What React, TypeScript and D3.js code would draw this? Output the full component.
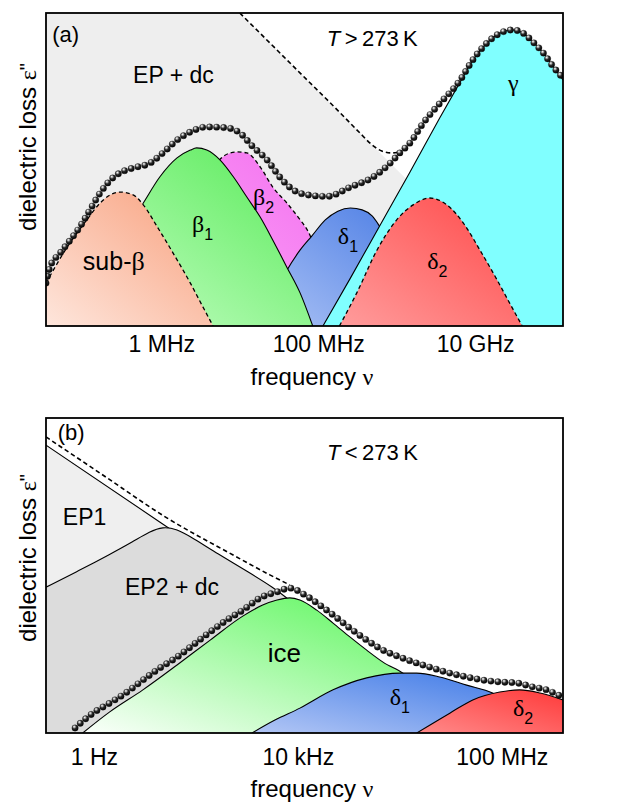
import React, { useEffect, useRef } from 'react';
import * as d3 from 'd3';

// x = log10(frequency / Hz), y = dielectric loss in arbitrary units (0..10)

// panel (a), T > 273 K
const totalA = [[4.53,1.37],[4.58,1.88],[4.71,2.33],[4.84,2.75],[4.96,3.16],[5.09,3.71],[5.22,4.25],[5.35,4.66],[5.47,4.89],[5.64,5.05],[5.86,5.21],[6.02,5.53],[6.20,5.94],[6.37,6.20],[6.58,6.36],[6.84,6.33],[7.00,6.17],[7.17,5.72],[7.35,5.30],[7.51,4.76],[7.68,4.35],[7.86,4.19],[8.11,4.14],[8.41,4.44],[8.70,4.76],[8.92,5.21],[9.04,5.53],[9.17,5.85],[9.34,6.49],[9.51,7.00],[9.81,7.86],[9.97,8.50],[10.15,9.04],[10.32,9.36],[10.48,9.46],[10.61,9.36],[10.74,9.07],[10.87,8.72],[11.00,8.27],[11.12,7.92]];
const epA = [[4.5,10],[7.0,10],[11.0,0]];
const sumDashA = [[7.00,10.0],[7.77,8.08],[8.28,6.81],[8.53,6.17],[8.69,5.78],[8.81,5.59],[8.94,5.53],[9.07,5.59]];
const subBeta = [[4.53,1.37],[4.80,2.52],[5.05,3.39],[5.22,3.93],[5.35,4.19],[5.47,4.28],[5.64,4.19],[5.77,3.87],[5.95,3.16],[6.15,2.33],[6.37,1.37],[6.53,0.61],[6.66,0]];
const beta1 = [[4.84,0],[5.22,1.63],[5.47,2.75],[5.77,3.93],[5.98,4.76],[6.20,5.37],[6.37,5.62],[6.45,5.69],[6.58,5.62],[6.75,5.30],[6.92,4.76],[7.09,4.12],[7.26,3.48],[7.42,2.75],[7.60,1.88],[7.77,1.05],[7.93,0]];
const beta2 = [[6.05,0],[6.24,2.11],[6.49,4.03],[6.72,5.24],[6.88,5.53],[6.97,5.56],[7.09,5.53],[7.26,5.08],[7.42,4.44],[7.60,3.93],[7.77,3.39],[7.86,3.07],[8.02,2.11],[8.21,0.83],[8.34,0]];
const delta1A = [[7.26,0],[7.58,1.69],[7.77,2.43],[7.92,2.88],[8.09,3.39],[8.25,3.67],[8.41,3.77],[8.56,3.71],[8.69,3.51],[8.79,3.16],[8.98,2.43],[9.17,1.15],[9.30,0]];
const gammaA = [[8.06,0],[8.41,1.53],[8.79,3.23],[9.17,4.92],[9.55,6.65],[9.81,7.80],[9.97,8.50],[10.15,9.04],[10.32,9.36],[10.48,9.46],[10.61,9.36],[10.74,9.07],[10.87,8.72],[11.00,8.27],[11.12,7.86]];
const delta2A = [[8.27,0],[8.49,1.05],[8.75,2.43],[9.00,3.39],[9.21,3.87],[9.42,4.09],[9.64,3.87],[9.85,3.29],[10.06,2.43],[10.28,1.47],[10.44,0.73],[10.60,0]];
const ticksA = [6, 8, 10];
const tickLabelsA = ['1 MHz', '100 MHz', '10 GHz'];

// panel (b), T < 273 K
const totalB = [[-0.37,0.16],[-0.02,0.63],[0.31,0.95],[0.65,1.30],[0.96,1.68],[1.29,2.06],[1.63,2.41],[1.94,2.79],[2.28,3.21],[2.61,3.59],[2.92,3.90],[3.26,4.29],[3.59,4.48],[3.84,4.60],[4.14,4.38],[4.43,4.06],[4.69,3.75],[5.02,3.33],[5.35,2.95],[5.67,2.63],[6.00,2.41],[6.33,2.22],[6.65,2.06],[6.98,1.90],[7.31,1.78],[7.63,1.68],[7.96,1.62],[8.29,1.59],[8.61,1.46],[8.88,1.37],[9.10,1.21],[9.20,1.14]];
const sumDashB = [[-0.94,9.40],[0.12,8.25],[1.43,6.83],[2.73,5.65],[3.45,5.02],[3.84,4.70]];
const ep1 = [[-0.94,9.14],[1.29,6.70],[7.43,0]];
const ep2 = [[-0.94,4.63],[-0.30,5.15],[0.30,5.66],[0.77,6.08],[1.10,6.40],[1.35,6.55],[1.62,6.48],[1.95,6.18],[2.41,5.71],[3.06,5.08],[3.51,4.63],[3.84,4.22],[4.43,3.43],[5.02,1.05],[5.22,0]];
const ice = [[-0.22,0],[0.31,0.67],[0.96,1.37],[1.63,2.16],[2.28,2.95],[2.92,3.71],[3.31,4.06],[3.59,4.22],[3.84,4.29],[4.04,4.22],[4.37,3.90],[4.69,3.49],[5.02,3.05],[5.35,2.63],[5.67,2.25],[6.06,1.90],[6.59,1.21],[7.18,0.41],[7.47,0]];
const delta1B = [[3.10,0],[3.55,0.41],[4.04,0.79],[4.69,1.37],[5.35,1.75],[6.00,1.90],[6.33,1.90],[6.78,1.78],[7.31,1.52],[7.82,1.27],[8.35,0.73],[8.84,0]];
const delta2B = [[6.33,0],[6.98,0.63],[7.43,1.05],[7.96,1.30],[8.35,1.37],[8.75,1.27],[9.20,1.05]];
const ticksB = [0, 4, 8];
const tickLabelsB = ['1 Hz', '10 kHz', '100 MHz'];

const SANS = '"Liberation Sans", Arial, sans-serif';
const SERIF = '"Liberation Serif", "Times New Roman", serif';

const App = () => {
	const ref = useRef(null);

	useEffect(() => {
		const svg = d3.select(ref.current);
		svg.selectAll('*').remove();
		const defs = svg.append('defs');

		const grad = (id, c0, c1) => {
			const g = defs
				.append('linearGradient')
				.attr('id', id)
				.attr('x1', 0)
				.attr('y1', 1)
				.attr('x2', 1)
				.attr('y2', 0);
			g.append('stop').attr('offset', '0%').attr('stop-color', c0);
			g.append('stop').attr('offset', '100%').attr('stop-color', c1);
		};
		grad('gSub', '#fee6dc', '#f89f7c');
		grad('gB1', '#cbffcb', '#55ea55');
		grad('gB2', '#fcaaf9', '#f36cee');
		grad('gD1a', '#abc2f5', '#4a7ce4');
		grad('gD2a', '#ff9c9c', '#ff4848');
		grad('gIce', '#fbfffb', '#4ff54f');
		grad('gD1b', '#b2c6f5', '#3a77e6');
		grad('gD2b', '#ff8a8a', '#ff3a3a');

		const ball = defs
			.append('radialGradient')
			.attr('id', 'ball')
			.attr('cx', '40%')
			.attr('cy', '35%')
			.attr('r', '65%')
			.attr('fx', '35%')
			.attr('fy', '28%');
		ball.append('stop').attr('offset', '0%').attr('stop-color', '#ffffff');
		ball.append('stop').attr('offset', '22%').attr('stop-color', '#b0b0b0');
		ball.append('stop').attr('offset', '50%').attr('stop-color', '#2a2a2a');
		ball.append('stop').attr('offset', '100%').attr('stop-color', '#000000');

		const panels = [
			{
				id: 'a',
				domain: [4.53, 11.12],
				top: 13,
				bottom: 326,
				back: { data: epA, fill: '#eeeeee' },
				areas: [
					{ data: beta2, fill: 'url(#gB2)', dash: true },
					{ data: delta1A, fill: 'url(#gD1a)', dash: false },
					{ data: beta1, fill: 'url(#gB1)', dash: false },
					{ data: subBeta, fill: 'url(#gSub)', dash: true },
					{ data: gammaA, fill: '#80ffff', dash: false },
					{ data: delta2A, fill: 'url(#gD2a)', dash: true }
				],
				sum: sumDashA,
				total: totalA,
				ticks: ticksA,
				tickLabels: tickLabelsA,
				pad: 10,
				titleY: 385,
				yLabelCenter: 147,
				tag: ['(a)', 4.61, 9.07],
				temp: ['>', 8.11, 8.95],
				notes: [
					{ t: 'EP + dc', x: 5.64, y: 7.76 },
					{ t: 'sub-', g: 'β', x: 5.0, y: 1.79, size: 25 },
					{ g: 'β', sub: '1', x: 6.39, y: 3.0 },
					{ g: 'β', sub: '2', x: 7.17, y: 3.87 },
					{ g: 'δ', sub: '1', x: 8.25, y: 2.62 },
					{ g: 'δ', sub: '2', x: 9.39, y: 1.82 },
					{ g: 'γ', x: 10.42, y: 7.51 }
				]
			},
			{
				id: 'b',
				domain: [-0.94, 9.2],
				top: 418,
				bottom: 733,
				back: null,
				areas: [
					{ data: ep1, fill: '#efefef', dash: false, linear: true },
					{ data: ep2, fill: '#dcdcdc', dash: false, smooth: true },
					{ data: ice, fill: 'url(#gIce)', dash: false },
					{ data: delta1B, fill: 'url(#gD1b)', dash: false },
					{ data: delta2B, fill: 'url(#gD2b)', dash: false }
				],
				sum: sumDashB,
				total: totalB,
				ticks: ticksB,
				tickLabels: tickLabelsB,
				pad: 16,
				titleY: 797,
				yLabelCenter: 558,
				tag: ['(b)', -0.71, 9.3],
				temp: ['<', 4.57, 8.67],
				notes: [
					{ t: 'EP1', x: -0.61, y: 6.6 },
					{ t: 'EP2 + dc', x: 0.61, y: 4.38 },
					{ t: 'ice', x: 3.41, y: 2.25, size: 26 },
					{ g: 'δ', sub: '1', x: 5.8, y: 0.89 },
					{ g: 'δ', sub: '2', x: 8.22, y: 0.54 }
				]
			}
		];

		panels.forEach(p => {
			const x = d3.scaleLinear().domain(p.domain).range([46, 563]);
			const y = d3.scaleLinear().domain([0, 10]).range([p.bottom, p.top]);
			const g = svg.append('g');

			defs
				.append('clipPath')
				.attr('id', `clip-${p.id}`)
				.append('rect')
				.attr('x', 46)
				.attr('y', p.top)
				.attr('width', 517)
				.attr('height', p.bottom - p.top);

			const plot = g.append('g').attr('clip-path', `url(#clip-${p.id})`);
			plot
				.append('rect')
				.attr('x', 46)
				.attr('y', p.top)
				.attr('width', 517)
				.attr('height', p.bottom - p.top)
				.attr('fill', '#fff');

			const area = curve =>
				d3
					.area()
					.x(d => x(d[0]))
					.y0(y(0))
					.y1(d => y(d[1]))
					.curve(curve);
			const line = curve =>
				d3
					.line()
					.x(d => x(d[0]))
					.y(d => y(d[1]))
					.curve(curve);

			if (p.back) {
				plot.append('path').attr('d', area(d3.curveLinear)(p.back.data)).attr('fill', p.back.fill);
			}

			p.areas.forEach(a => {
				const c = a.linear ? d3.curveLinear : a.smooth ? d3.curveBasis : d3.curveMonotoneX;
				plot.append('path').attr('d', area(c)(a.data)).attr('fill', a.fill);
				plot
					.append('path')
					.attr('d', line(c)(a.data))
					.attr('fill', 'none')
					.attr('stroke', '#000')
					.attr('stroke-width', a.dash ? 1.3 : 1.1)
					.attr('stroke-dasharray', a.dash ? '4,3' : null);
			});

			plot
				.append('path')
				.attr('d', line(d3.curveMonotoneX)(p.sum))
				.attr('fill', 'none')
				.attr('stroke', '#000')
				.attr('stroke-width', 1.6)
				.attr('stroke-dasharray', '4.5,3');

			// total loss drawn as a string of spheres along the curve
			const track = plot
				.append('path')
				.attr('d', line(d3.curveMonotoneX)(p.total))
				.attr('fill', 'none')
				.attr('stroke', 'none');
			const node = track.node();
			const len = node.getTotalLength();
			const pts = d3.range(0, len, 7.0).map(l => node.getPointAtLength(l));
			plot
				.selectAll('circle.dot')
				.data(pts)
				.enter()
				.append('circle')
				.attr('class', 'dot')
				.attr('cx', d => d.x)
				.attr('cy', d => d.y)
				.attr('r', 3.2)
				.attr('fill', 'url(#ball)')
				.attr('stroke', '#111')
				.attr('stroke-width', 0.3);

			g.append('rect')
				.attr('x', 46)
				.attr('y', p.top)
				.attr('width', 517)
				.attr('height', p.bottom - p.top)
				.attr('fill', 'none')
				.attr('stroke', '#000')
				.attr('stroke-width', 1.8);

			// tick labels, no tick marks
			const ax = g
				.append('g')
				.attr('transform', `translate(0, ${p.bottom})`)
				.call(
					d3
						.axisBottom(x)
						.tickValues(p.ticks)
						.tickFormat((d, i) => p.tickLabels[i])
						.tickSize(0)
						.tickPadding(p.pad)
				);
			ax.select('.domain').remove();
			ax.selectAll('text')
				.attr('fill', '#000')
				.style('font-family', SANS)
				.style('font-size', '23px');

			const title = g
				.append('text')
				.attr('x', 312)
				.attr('y', p.titleY)
				.attr('text-anchor', 'middle')
				.style('font-family', SANS)
				.style('font-size', '24px');
			title.append('tspan').text('frequency ');
			title.append('tspan').style('font-family', SERIF).text('ν');

			const yl = g
				.append('text')
				.attr('transform', `translate(36, ${p.yLabelCenter}) rotate(-90)`)
				.attr('text-anchor', 'middle')
				.style('font-family', SANS)
				.style('font-size', '24px');
			yl.append('tspan').text('dielectric loss ');
			yl.append('tspan').style('font-family', SERIF).text('ε');
			yl.append('tspan').style('font-size', '20px').attr('dy', -2).text('"');

			g.append('text')
				.attr('x', x(p.tag[1]))
				.attr('y', y(p.tag[2]))
				.style('font-family', SANS)
				.style('font-size', '22px')
				.text(p.tag[0]);

			const tt = g
				.append('text')
				.attr('x', x(p.temp[1]))
				.attr('y', y(p.temp[2]))
				.style('font-family', SANS)
				.style('font-size', '22px');
			tt.append('tspan').style('font-style', 'italic').text('T');
			tt.append('tspan').text(`\u2009${p.temp[0]}\u2009273\u2009K`);

			p.notes.forEach(n => {
				const size = n.size || 23;
				const t = g
					.append('text')
					.attr('x', x(n.x))
					.attr('y', y(n.y))
					.style('font-family', SANS)
					.style('font-size', `${size}px`);
				if (n.t) t.append('tspan').text(n.t);
				if (n.g) t.append('tspan').style('font-family', SERIF).style('font-size', `${size + 1}px`).text(n.g);
				if (n.sub) t.append('tspan').attr('dy', 8).style('font-size', '16px').text(n.sub);
			});
		});
	}, []);

	return (
		<svg
			ref={ref}
			width={623}
			height={806}
			style={{ position: 'absolute', left: 0, top: 0, display: 'block', background: '#fff' }}
		/>
	);
};

export default App;
